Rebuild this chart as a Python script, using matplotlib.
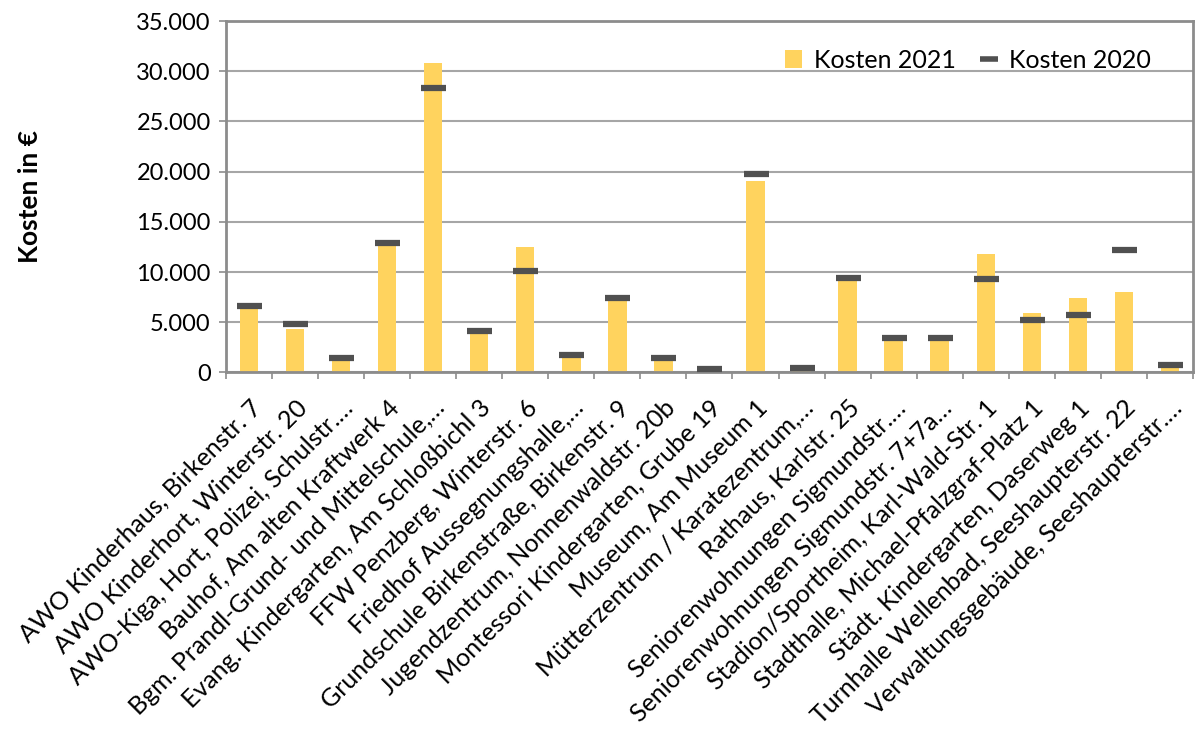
import numpy as np
import matplotlib
matplotlib.use("Agg")
import matplotlib.pyplot as plt
from matplotlib.ticker import FuncFormatter, FixedLocator
from matplotlib.patches import Patch
from matplotlib.lines import Line2D

#------------------ data ------------------
gebaeude = [
    "AWO Kinderhaus, Birkenstr. 7",
    "AWO Kinderhort, Winterstr. 20",
    "AWO-Kiga, Hort, Polizei, Schulstr.…",
    "Bauhof, Am alten Kraftwerk 4",
    "Bgm. Prandl-Grund- und Mittelschule,…",
    "Evang. Kindergarten, Am Schloßbichl 3",
    "FFW Penzberg, Winterstr. 6",
    "Friedhof Aussegnungshalle,…",
    "Grundschule Birkenstraße, Birkenstr. 9",
    "Jugendzentrum, Nonnenwaldstr. 20b",
    "Montessori Kindergarten, Grube 19",
    "Museum, Am Museum 1",
    "Mütterzentrum / Karatezentrum,…",
    "Rathaus, Karlstr. 25",
    "Seniorenwohnungen Sigmundstr.…",
    "Seniorenwohnungen Sigmundstr. 7+7a…",
    "Stadion/Sportheim, Karl-Wald-Str. 1",
    "Stadthalle, Michael-Pfalzgraf-Platz 1",
    "Städt. Kindergarten, Daserweg 1",
    "Turnhalle Wellenbad, Seeshaupterstr. 22",
    "Verwaltungsgebäude, Seeshaupterstr.…",
]
kosten_2021 = [6300, 4300, 1200, 12600, 30800, 3900, 12500, 1500, 7100, 1200,
               0, 19100, 150, 9100, 3100, 3100, 11750, 5900, 7450, 8050, 400]
kosten_2020 = [6600, 4850, 1450, 12900, 28350, 4150, 10100, 1750, 7400, 1450,
               300, 19800, 400, 9400, 3400, 3400, 9300, 5250, 5700, 12200, 750]
yticks = [0, 5000, 10000, 15000, 20000, 25000, 30000, 35000]

#------------------ style ------------------
plt.rcParams['font.family'] = ['Lato', 'DejaVu Sans']
bar_color = "#FFD35E"
mark_color = "#505050"
frame_color = "#8C8C8C"
grid_color = "#A6A6A6"

fig = plt.figure(figsize=(11.98, 7.38), dpi=100)
ax = fig.add_axes([0.1886, 0.4953, 0.8072, 0.4762])

x = np.arange(len(gebaeude))
ax.bar(x, kosten_2021, width=0.4, color=bar_color, zorder=2)
ax.plot(x, kosten_2020, linestyle="none", marker="_", markersize=18,
        markeredgewidth=4.5, color=mark_color, zorder=3)

#------------------ axes ------------------
ax.set_xlim(-0.5, len(gebaeude) - 0.5)
ax.set_ylim(0, 35000)
ax.yaxis.set_major_locator(FixedLocator(yticks))
ax.yaxis.set_major_formatter(FuncFormatter(lambda v, p: f"{int(v):,}".replace(",", ".")))
ax.grid(axis="y", color=grid_color, linewidth=1.5, zorder=0)
for s in ax.spines.values():
    s.set_color(frame_color)
    s.set_linewidth(2)

ax.set_xticks(x)
ax.set_xticklabels(gebaeude, rotation=45, ha="right", va="top",
                   rotation_mode="anchor", fontsize=18)
ax.set_xticks(np.arange(-0.5, len(gebaeude)), minor=True)
ax.tick_params(axis="x", which="major", length=0, pad=17)
ax.tick_params(axis="x", which="minor", length=5, width=1.2, color=frame_color)
ax.tick_params(axis="y", length=5, width=1.2, color=frame_color, labelsize=17, pad=6)

ax.set_ylabel("Kosten in €", fontsize=19, fontweight="bold")
ax.yaxis.set_label_coords(-0.19, 0.5)

#------------------ legend ------------------
handles = [Patch(facecolor=bar_color, label="Kosten 2021"),
           Line2D([], [], linestyle="none", marker="_", markersize=13,
                  markeredgewidth=4, color=mark_color, label="Kosten 2020")]
ax.legend(handles=handles, loc="upper right", bbox_to_anchor=(0.98, 0.985),
          ncol=2, frameon=False, fontsize=18, handlelength=0.7,
          handletextpad=0.45, columnspacing=1.0)

fig.savefig("out.png", dpi=100)
